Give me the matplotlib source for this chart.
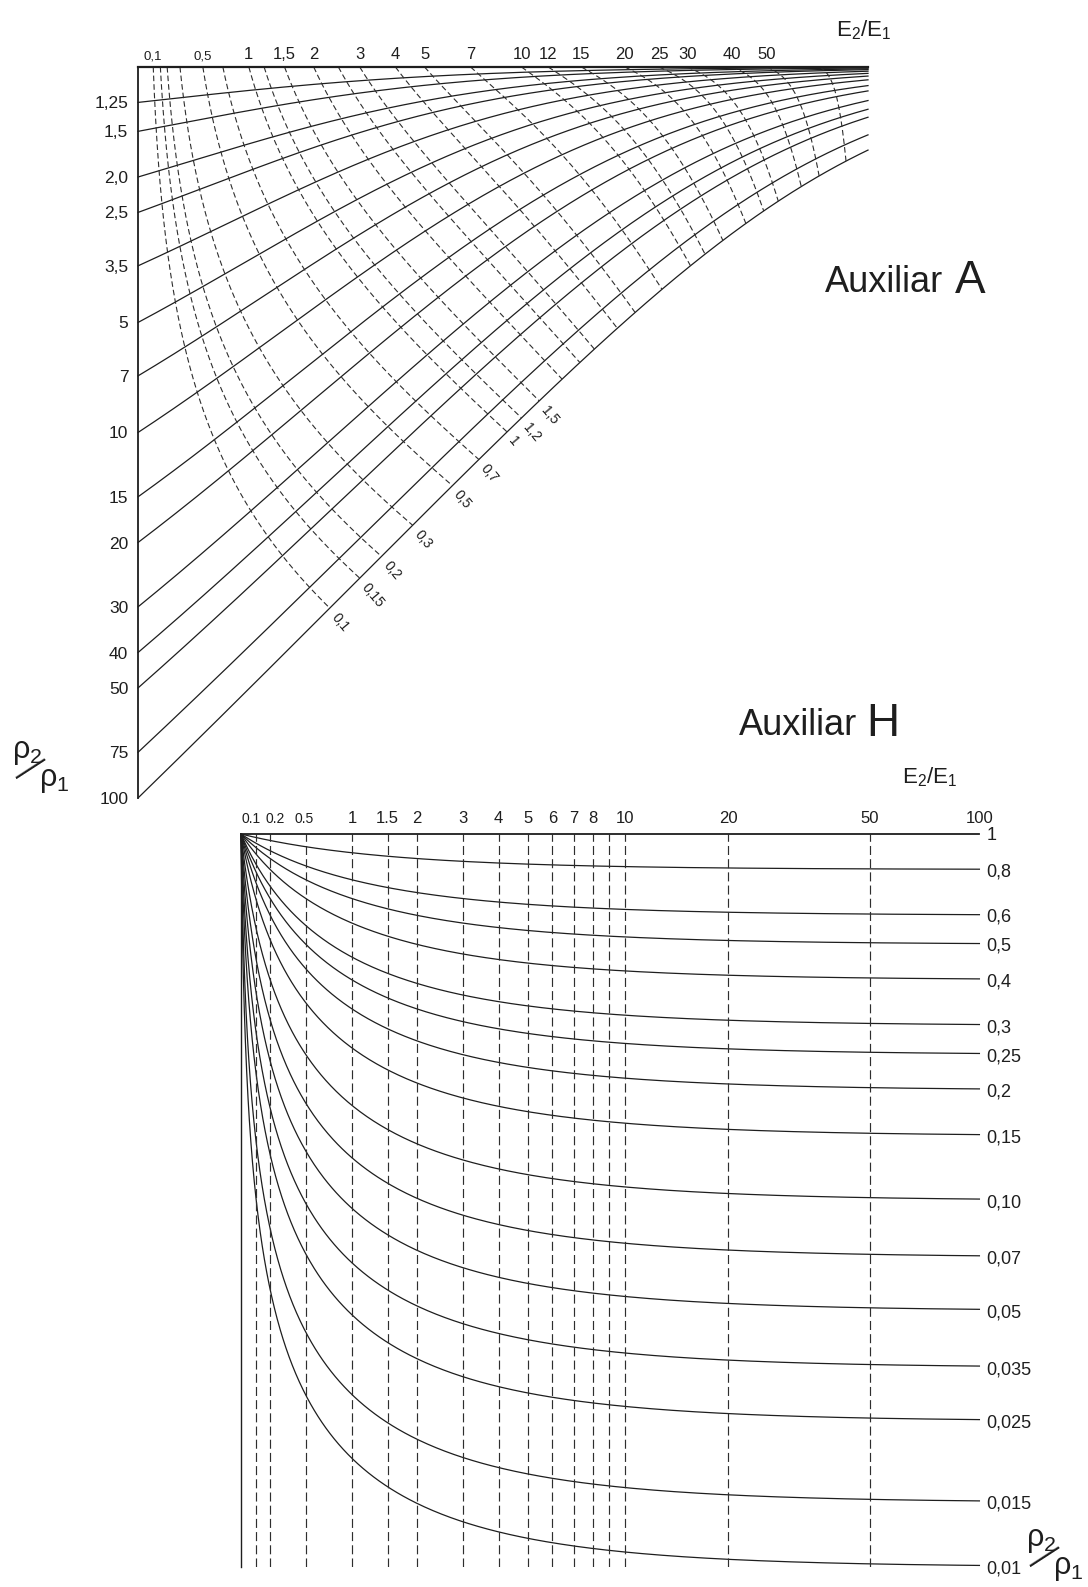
"""
Ábacos auxiliares A y H (E2/E1 vs rho2/rho1), redibujados con matplotlib.
Salida: out.png (1088x1587 px).
"""

import matplotlib
matplotlib.use("Agg")

import matplotlib.pyplot as plt
import matplotlib.transforms as mtransforms
import numpy as np
from matplotlib.ticker import NullLocator

plt.rcParams["font.family"] = ["Liberation Sans", "DejaVu Sans"]
plt.rcParams["mathtext.fontset"] = "custom"
plt.rcParams["mathtext.rm"] = "Liberation Sans"
plt.rcParams["mathtext.it"] = "Liberation Sans:italic"
plt.rcParams["lines.scale_dashes"] = False

ANCHO, ALTO = 1088, 1587

# --- Auxiliar A ---
RHO_A = [1.25, 1.5, 2.0, 2.5, 3.5, 5, 7, 10, 15, 20, 30, 40, 50, 75, 100]
RHO_A_ETIQ = ["1,25", "1,5", "2,0", "2,5", "3,5", "5", "7", "10", "15", "20", "30", "40", "50", "75", "100"]
E_A = [0.1, 0.15, 0.2, 0.3, 0.5, 0.7, 1, 1.2, 1.5, 2, 2.5, 3, 4, 5, 7, 10, 12, 15, 20, 25, 30, 40, 50, 70]
E_A_TICKS = [0.1, 0.5, 1, 1.5, 2, 3, 4, 5, 7, 10, 12, 15, 20, 25, 30, 40, 50]
E_A_ETIQ = ["0,1", "0,5", "1", "1,5", "2", "3", "4", "5", "7", "10", "12", "15", "20", "25", "30", "40", "50"]
E_A_FIN = [0.1, 0.15, 0.2, 0.3, 0.5, 0.7, 1, 1.2, 1.5]
E_A_FIN_ETIQ = ["0,1", "0,15", "0,2", "0,3", "0,5", "0,7", "1", "1,2", "1,5"]
E_A_MAX = 95  # valor de E2/E1 en el borde derecho

# --- Auxiliar H ---
V_H = [0.8, 0.6, 0.5, 0.4, 0.3, 0.25, 0.2, 0.15, 0.10, 0.07, 0.05, 0.035, 0.025, 0.015, 0.01]
V_H_TICKS = [1, 0.8, 0.6, 0.5, 0.4, 0.3, 0.25, 0.2, 0.15, 0.10, 0.07, 0.05, 0.035, 0.025, 0.015, 0.01]
V_H_ETIQ = ["1", "0,8", "0,6", "0,5", "0,4", "0,3", "0,25", "0,2", "0,15", "0,10", "0,07", "0,05",
            "0,035", "0,025", "0,015", "0,01"]
E_H = [0.1, 0.2, 0.5, 1, 1.5, 2, 3, 4, 5, 6, 7, 8, 9, 10, 20, 50]
E_H_TICKS = [0.1, 0.2, 0.5, 1, 1.5, 2, 3, 4, 5, 6, 7, 8, 10, 20, 50, 100]
E_H_ETIQ = ["0.1", "0.2", "0.5", "1", "1.5", "2", "3", "4", "5", "6", "7", "8", "10", "20", "50", "100"]

NEGRO = "#1e1e1e"
GUION = "#2e2e2e"


def px(x, y):
    """Pixel (x, y) de la imagen -> fracción de figura."""
    return x / ANCHO, 1 - y / ALTO


def q_cruce(rho, e):
    """Posición horizontal, en unidades ln(1+E2/E1) de la escala superior, del cruce rho-E."""
    return 0.5 * np.log1p(rho * e) + 0.5 * np.log1p(e) * (1 - np.log10(rho) / 2)


def g_curva(rho, q):
    """Lectura en la escala de rho2/rho1 de la curva rho a la abscisa q."""
    t = np.expm1(0.992 * q + 0.0212 * q ** 2) * (rho / 100) ** 0.13
    return (rho + t) / (1 + t)


def h_curva(v, e):
    """Curva de Auxiliar H: parte de 1 (E=0) y tiende a v cuando E2/E1 crece."""
    return (1 + e) / (1 + e / v)


def fraccion_rho(fig, x, y):
    """Rótulo rho2/rho1 en diagonal; (x, y) = línea base del primer rho, en pixeles."""
    fig.text(*px(x, y), r"$\mathrm{ρ}_2$", fontsize=22, color=NEGRO, ha="left", va="baseline")
    fig.text(*px(x + 19, y + 10), "—", fontsize=25, color=NEGRO, rotation=33,
             ha="center", va="center")
    fig.text(*px(x + 27, y + 28), r"$\mathrm{ρ}_1$", fontsize=22, color=NEGRO, ha="left", va="baseline")


def desplazar(lab, fig, dx_px):
    lab.set_transform(lab.get_transform() + mtransforms.ScaledTranslation(dx_px / 100, 0, fig.dpi_scale_trans))


def main():
    fig = plt.figure(figsize=(ANCHO / 100, ALTO / 100), dpi=100)

    # ================= Auxiliar A =================
    ax_a = fig.add_axes([*px(138, 798), 730 / ANCHO, 731 / ALTO])
    ax_a.set_xscale("function", functions=(np.log1p, np.expm1))
    ax_a.set_yscale("log")
    ax_a.set_xlim(0, E_A_MAX)
    ax_a.set_ylim(100, 1)
    q_max = np.log1p(E_A_MAX)

    q = np.linspace(0, q_max, 600)
    for rho in RHO_A:
        ax_a.plot(np.expm1(q), g_curva(rho, q), color=NEGRO, lw=0.9, clip_on=False)

    rr = np.logspace(0, 2, 700)
    for e in E_A:
        qq = q_cruce(rr, e)
        m = qq <= q_max
        ax_a.plot(np.expm1(qq[m]), g_curva(rr[m], qq[m]), color=GUION, lw=0.8,
                  dashes=(4, 2.2), clip_on=False)

    for e, etiq in zip(E_A_FIN, E_A_FIN_ETIQ):
        qf = q_cruce(100, e)
        ax_a.annotate(etiq, (np.expm1(qf), g_curva(100, qf)), xytext=(3, -5), textcoords="offset points",
                      rotation=-50, rotation_mode="anchor", ha="left", va="center",
                      fontsize=10, color=NEGRO)

    ax_a.xaxis.tick_top()
    ax_a.set_xticks(E_A_TICKS, E_A_ETIQ)
    ax_a.set_yticks(RHO_A, RHO_A_ETIQ)
    ax_a.xaxis.set_minor_locator(NullLocator())
    ax_a.yaxis.set_minor_locator(NullLocator())
    ax_a.tick_params(axis="x", length=0, pad=3.5, labelsize=12, colors=NEGRO)
    ax_a.tick_params(axis="y", length=0, pad=7, labelsize=12.5, colors=NEGRO)
    for lab in ax_a.get_xticklabels():
        if lab.get_text().startswith("0,"):
            lab.set_fontsize(9.5)
    for lado in ("right", "bottom"):
        ax_a.spines[lado].set_visible(False)
    ax_a.spines["top"].set_linewidth(1.6)
    ax_a.spines["left"].set_linewidth(1.3)
    for lado in ("top", "left"):
        ax_a.spines[lado].set_color(NEGRO)
    ax_a.patch.set_alpha(0)

    fig.text(*px(864, 30), r"$\mathrm{E}_2/\mathrm{E}_1$", fontsize=16, color=NEGRO, ha="center", va="center")
    fig.text(*px(825, 292), "Auxiliar", fontsize=26, color=NEGRO, ha="left", va="baseline")
    fig.text(*px(955, 293), "A", fontsize=33, color=NEGRO, ha="left", va="baseline")
    fraccion_rho(fig, 12, 758)

    # ================= Auxiliar H =================
    ax_h = fig.add_axes([*px(241, 1567), 738.4 / ANCHO, 733 / ALTO])
    ax_h.set_xscale("function", functions=(np.log1p, np.expm1))
    ax_h.set_yscale("log")
    ax_h.set_xlim(0, 100)
    ax_h.set_ylim(0.01, 1)

    ee = np.concatenate([[0], np.logspace(-4, 2, 900)])
    for v in V_H:
        ax_h.plot(ee, h_curva(v, ee), color=NEGRO, lw=0.9, clip_on=False)
    for e in E_H:
        ax_h.axvline(e, color=GUION, lw=0.85, dashes=(6.5, 3))

    ax_h.xaxis.tick_top()
    ax_h.yaxis.tick_right()
    ax_h.set_xticks(E_H_TICKS, E_H_ETIQ)
    ax_h.set_xticks([100], minor=True)
    ax_h.set_yticks(V_H_TICKS, V_H_ETIQ)
    ax_h.yaxis.set_minor_locator(NullLocator())
    ax_h.tick_params(axis="x", which="major", length=0, pad=6, labelsize=12, colors=NEGRO)
    ax_h.tick_params(axis="x", which="minor", length=6, width=1, direction="in", top=True, bottom=False)
    ax_h.tick_params(axis="y", length=0, pad=5, labelsize=13, colors=NEGRO)
    corrimiento = {"0.1": -5, "0.2": 5, "0.5": -2}
    for lab in ax_h.get_xticklabels():
        texto = lab.get_text()
        if texto.startswith("0."):
            lab.set_fontsize(10)
            desplazar(lab, fig, corrimiento[texto])
    for lado in ("right", "bottom"):
        ax_h.spines[lado].set_visible(False)
    ax_h.spines["top"].set_linewidth(1.3)
    ax_h.spines["left"].set_linewidth(1.0)
    for lado in ("top", "left"):
        ax_h.spines[lado].set_color(NEGRO)
    ax_h.patch.set_alpha(0)

    fig.text(*px(930, 777), r"$\mathrm{E}_2/\mathrm{E}_1$", fontsize=16, color=NEGRO, ha="center", va="center")
    fig.text(*px(739, 735), "Auxiliar", fontsize=26, color=NEGRO, ha="left", va="baseline")
    fig.text(*px(866, 736), "H", fontsize=33, color=NEGRO, ha="left", va="baseline")
    fraccion_rho(fig, 1026, 1546)

    fig.savefig("out.png", dpi=100, facecolor="white")
    plt.close(fig)


if __name__ == "__main__":
    main()
